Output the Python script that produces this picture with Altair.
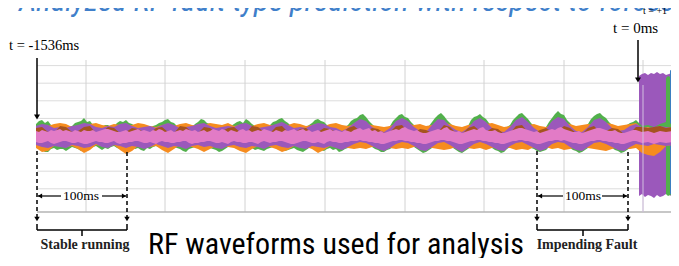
import altair as alt
import pandas as pd

# ---------------- data ----------------
# sample index along the record (stable part + a few samples into the fault)
stable_x = list(range(0, 601, 6)) + [606, 612, 618, 624, 630, 636]
mid_x = list(range(3, 600, 6))   # extra samples between the main ones (green / pink edges)

green_top = [12, 16, 15, 10, 9, 11, 10, 14, 18, 15,
             10, 9, 11, 10, 15, 16, 12, 9, 10, 8,
             11, 14, 17, 13, 9, 10, 9, 14, 16, 12,
             9, 10, 8, 12, 15, 17, 12, 9, 10, 11,
             15, 18, 13, 9, 10, 9, 13, 17, 14, 10,
             9, 8, 11, 17, 21, 19, 12, 8, 6, 10,
             18, 22, 18, 11, 7, 6, 14, 21, 20, 13,
             8, 6, 10, 19, 22, 17, 10, 7, 6, 11,
             19, 23, 17, 10, 6, 9, 18, 25, 21, 13,
             7, 6, 12, 20, 23, 18, 11, 7, 8, 13,
             16, 10, 11, 9, 12, 14, 12]
green_top_mid = [15, 13, 11, 8, 11, 9, 13, 15, 14, 11,
                 8, 11, 9, 13, 14, 13, 10, 11, 7, 10,
                 13, 16, 14, 10, 11, 8, 12, 17, 13, 10,
                 11, 8, 10, 14, 13, 15, 10, 11, 8, 14,
                 17, 15, 10, 11, 8, 11, 16, 15, 11, 8,
                 10, 9, 15, 18, 22, 15, 9, 7, 8, 15,
                 21, 19, 14, 9, 8, 10, 18, 23, 16, 10,
                 7, 8, 16, 20, 19, 13, 9, 5, 9, 16,
                 22, 20, 13, 8, 7, 14, 22, 22, 16, 9,
                 5, 9, 17, 22, 20, 14, 9, 6, 11, 14]
green_bot = [-11, -14, -16, -12, -13, -15, -11, -13, -15, -12,
             -10, -14, -13, -10, -13, -14, -11, -12, -15, -13,
             -10, -12, -14, -11, -13, -16, -12, -10, -13, -12,
             -14, -15, -11, -10, -13, -15, -12, -13, -15, -12,
             -10, -12, -14, -12, -15, -14, -11, -13, -15, -12,
             -13, -15, -12, -9, -7, -8, -11, -14, -16, -13,
             -9, -7, -8, -11, -15, -16, -12, -8, -7, -10,
             -14, -17, -13, -9, -7, -9, -12, -15, -16, -11,
             -8, -7, -10, -13, -16, -14, -9, -7, -8, -12,
             -15, -16, -12, -8, -7, -9, -12, -15, -16, -12,
             -9, -8, -9, -8, -10, -9, -8]
green_bot_mid = [-13, -16, -13, -14, -13, -13, -12, -15, -13, -11,
                 -12, -12, -11, -12, -15, -12, -13, -14, -12, -11,
                 -11, -15, -12, -12, -15, -13, -11, -12, -14, -13,
                 -16, -13, -10, -12, -14, -13, -14, -14, -13, -11,
                 -11, -15, -13, -14, -16, -12, -12, -14, -13, -14,
                 -16, -13, -10, -8, -9, -10, -13, -16, -14, -11,
                 -8, -9, -10, -13, -17, -14, -10, -8, -9, -12,
                 -16, -15, -11, -8, -8, -11, -14, -17, -13, -9,
                 -7, -9, -12, -15, -15, -11, -8, -8, -10, -14,
                 -17, -14, -10, -7, -8, -11, -14, -17, -14, -10]
orange_top = [9, 11, 10, 12, 13, 12, 9, 10, 11, 12,
              13, 11, 10, 12, 11, 10, 11, 13, 12, 10,
              9, 11, 12, 10, 12, 13, 11, 10, 11, 13,
              12, 11, 13, 10, 11, 12, 10, 12, 13, 11,
              10, 12, 11, 13, 12, 10, 11, 12, 10, 12,
              13, 11, 10, 12, 13, 12, 11, 10, 9, 10,
              12, 13, 12, 11, 12, 10, 11, 12, 13, 12,
              10, 9, 11, 12, 11, 12, 13, 11, 9, 10,
              12, 13, 11, 12, 10, 9, 11, 12, 13, 12,
              10, 11, 12, 11, 12, 13, 12, 10, 11, 12,
              13, 8, 9, 7, 8, 9, 8]
orange_bot = [-12, -16, -15, -10, -9, -11, -10, -13, -17, -14,
              -9, -10, -11, -9, -14, -18, -15, -10, -9, -11,
              -10, -14, -17, -13, -9, -10, -11, -13, -16, -13,
              -10, -9, -11, -12, -15, -17, -13, -10, -9, -11,
              -13, -16, -14, -10, -9, -11, -13, -17, -14, -10,
              -11, -11, -12, -13, -12, -13, -11, -10, -11, -12,
              -13, -12, -13, -11, -10, -11, -12, -13, -14, -13,
              -11, -10, -12, -13, -12, -14, -12, -10, -11, -12,
              -14, -13, -14, -11, -10, -11, -13, -12, -14, -13,
              -11, -10, -12, -13, -14, -15, -13, -11, -12, -13,
              -12, -17, -19, -20, -16, -10, -9]
purple_top = [10, 12, 11, 8, 9, 8, 10, 11, 13, 12,
              9, 8, 10, 9, 12, 13, 10, 8, 9, 10,
              8, 11, 13, 11, 8, 9, 10, 12, 13, 10,
              8, 9, 10, 9, 12, 13, 10, 8, 9, 10,
              12, 14, 11, 8, 9, 8, 11, 13, 12, 9,
              8, 5, 8, 13, 17, 15, 9, 6, 4, 8,
              15, 18, 15, 9, 5, 4, 11, 17, 16, 10,
              6, 4, 8, 15, 18, 14, 8, 5, 4, 9,
              16, 19, 14, 8, 4, 7, 15, 19, 17, 10,
              5, 4, 9, 16, 18, 14, 8, 5, 6, 10,
              12, 9, 8, 9, 10, 9, 8]
purple_bot = [-9, -11, -12, -10, -11, -12, -9, -10, -12, -11,
              -8, -11, -12, -9, -10, -12, -10, -11, -13, -11,
              -8, -10, -12, -10, -11, -13, -10, -9, -11, -10,
              -12, -13, -10, -9, -11, -12, -10, -11, -13, -10,
              -9, -11, -12, -10, -12, -13, -10, -11, -12, -10,
              -12, -14, -11, -8, -6, -7, -10, -13, -15, -12,
              -8, -6, -7, -10, -14, -15, -11, -7, -6, -9,
              -13, -16, -12, -8, -6, -8, -11, -14, -15, -10,
              -7, -6, -9, -12, -15, -13, -8, -6, -7, -11,
              -14, -15, -11, -7, -6, -8, -11, -14, -15, -11,
              -8, -9, -10, -8, -9, -10, -9]
brown_top = [8, 9, 4, 3, 10, 9, 4, 5, 9, 10,
             3, 4, 9, 8, 3, 4, 8, 7, 4, 3,
             8, 9, 4, 3, 10, 9, 4, 3, 9, 8,
             4, 5, 8, 9, 4, 3, 10, 9, 4, 3,
             9, 10, 4, 3, 7, 8, 3, 4, 8, 7,
             4, 3, 8, 10, 5, 4, 8, 7, 3, 4,
             10, 11, 4, 3, 7, 6, 3, 4, 11, 9,
             3, 2, 8, 10, 5, 4, 8, 7, 2, 3,
             10, 11, 4, 3, 6, 8, 4, 5, 10, 8,
             3, 2, 8, 10, 4, 5, 8, 7, 2, 3,
             9, 9, 8, 9, 10, 8, 9]
brown_bot = [2, 1, 3, 2, 1, 2, 3, 1, 2, 2,
             1, 3, 2, 1, 2, 3, 2, 1, 2, 1,
             3, 2, 1, 2, 2, 3, 1, 2, 2, 1,
             3, 2, 1, 2, 2, 1, 3, 2, 1, 2,
             3, 2, 1, 2, 1, 2, 3, 2, 1, 2,
             2, 0, 1, 3, 4, 3, 1, 0, -1, 1,
             3, 4, 3, 1, 0, -1, 1, 3, 4, 2,
             0, -1, 1, 3, 4, 2, 1, 0, -1, 1,
             3, 4, 2, 0, -1, 1, 3, 4, 3, 1,
             0, -1, 1, 3, 4, 2, 1, 0, -1, 1,
             2, 1, 0, 2, 1, 0, 1]
pink_top = [5, 6, 4, 5, 7, 6, 4, 5, 6, 5,
            4, 6, 7, 5, 4, 6, 5, 7, 6, 4,
            5, 6, 5, 4, 6, 7, 5, 4, 6, 5,
            6, 7, 4, 5, 6, 5, 4, 6, 7, 5,
            6, 4, 5, 7, 6, 5, 4, 6, 5, 7,
            6, 4, 5, 6, 8, 7, 5, 4, 3, 5,
            7, 8, 7, 5, 4, 3, 5, 7, 8, 6,
            4, 3, 5, 7, 8, 6, 5, 4, 3, 5,
            7, 8, 6, 4, 3, 5, 7, 8, 7, 5,
            4, 3, 5, 7, 8, 6, 5, 4, 3, 5,
            6, 4, 5, 3, 5, 4, 5]
pink_top_mid = [4, 5, 6, 6, 5, 5, 6, 4, 5, 6,
                5, 7, 6, 4, 5, 4, 6, 5, 5, 6,
                7, 4, 6, 5, 5, 6, 6, 5, 4, 7,
                5, 6, 6, 4, 7, 6, 5, 5, 6, 4,
                5, 6, 6, 5, 7, 6, 5, 4, 6, 5,
                5, 6, 4, 7, 6, 8, 6, 5, 4, 6,
                6, 9, 6, 6, 3, 4, 6, 6, 9, 5,
                5, 4, 6, 6, 9, 5, 6, 3, 4, 6,
                8, 7, 5, 5, 4, 6, 6, 9, 6, 4,
                5, 4, 6, 8, 7, 5, 6, 3, 4, 6]
pink_bot = [-6, -7, -5, -8, -6, -5, -7, -6, -8, -7,
            -5, -6, -7, -5, -8, -7, -6, -5, -7, -6,
            -8, -5, -6, -7, -6, -5, -8, -7, -6, -5,
            -7, -6, -8, -5, -6, -7, -6, -8, -5, -7,
            -6, -5, -7, -8, -6, -5, -7, -6, -8, -5,
            -6, -7, -6, -5, -4, -5, -6, -7, -8, -6,
            -5, -4, -5, -6, -7, -8, -6, -5, -4, -5,
            -7, -8, -6, -5, -4, -5, -6, -7, -8, -6,
            -5, -4, -5, -7, -8, -6, -5, -4, -4, -6,
            -7, -8, -6, -5, -4, -5, -6, -7, -8, -6,
            -5, -7, -6, -8, -6, -7, -6]
pink_bot_mid = [-7, -6, -7, -7, -5, -6, -7, -7, -8, -6,
                -6, -7, -6, -7, -7, -6, -5, -6, -7, -7,
                -6, -6, -7, -6, -5, -7, -7, -6, -5, -6,
                -7, -7, -6, -6, -7, -6, -7, -6, -6, -6,
                -5, -6, -8, -7, -5, -6, -7, -7, -6, -6,
                -7, -6, -5, -5, -5, -6, -7, -8, -7, -5,
                -4, -5, -6, -7, -8, -7, -5, -4, -5, -6,
                -8, -7, -5, -4, -5, -6, -7, -8, -7, -5,
                -4, -5, -6, -8, -7, -5, -4, -5, -5, -7,
                -8, -7, -5, -4, -5, -6, -7, -8, -7, -5]

# fault burst (after t = 0)
fault_x = [603, 606, 609, 612, 615, 618, 621, 624, 627, 630, 633, 636]
fault_purple_top = [60, 62, 63, 61, 63, 62, 64, 62, 63, 61, 62, 63]
fault_purple_bot = [-60, -58, -61, -59, -60, -62, -59, -61, -60, -58, -59, -60]
fault_green_x = [630, 632, 634, 637]
fault_green_top = [58, 60, 59, 61]
fault_green_bot = [-58, -60, -59, -60]
fault_blue_x = [634, 636, 640, 646]
fault_blue_top = [66, 65, 66, 67]
fault_blue_bot = [-58, -59, -58, -59]

grid_y = [70.4, 52.8, 35.2, 17.6, 0, -17.6, -35.2, -52.8]
grid_x = [50, 129, 209, 289, 369, 448, 528, 607]
axis_y = -76

for arr in [green_top, green_bot, orange_top, orange_bot, purple_top, purple_bot,
            brown_top, brown_bot, pink_top, pink_bot]:
    assert len(arr) == len(stable_x), len(arr)
for arr in [green_top_mid, green_bot_mid, pink_top_mid, pink_bot_mid]:
    assert len(arr) == len(mid_x), len(arr)

COL = {"green": "#52b04c", "orange": "#f68c1f", "purple": "#9b58bb",
       "brown": "#a5531f", "blue": "#3b7fc1", "pink": "#e27bc6"}

XS = alt.Scale(domain=[-28, 635], nice=False, zero=False)
YS = alt.Scale(domain=[-122, 128], nice=False, zero=False)


def X(f="x"):
    return alt.X(f"{f}:Q", scale=XS, axis=None)


def Y(f="y"):
    return alt.Y(f"{f}:Q", scale=YS, axis=None)


def band(xv, top, bot, color, xm=None, topm=None, botm=None):
    df = pd.DataFrame({"x": xv, "y": top, "y2": bot})
    if xm is not None:
        df = pd.concat([df, pd.DataFrame({"x": xm, "y": topm, "y2": botm})])
        df = df.sort_values("x").reset_index(drop=True)
    return alt.Chart(df).mark_area(color=color, opacity=1, strokeWidth=0).encode(
        x=X(), y=Y(), y2="y2:Q")


def hrules(rows, color="black", width=1.5, dash=None):
    df = pd.DataFrame(rows, columns=["x", "x2", "y"])
    kw = dict(color=color, strokeWidth=width)
    if dash:
        kw["strokeDash"] = dash
    return alt.Chart(df).mark_rule(**kw).encode(x=X(), x2="x2:Q", y=Y())


def vrules(rows, color="black", width=1.5, dash=None):
    df = pd.DataFrame(rows, columns=["x", "y", "y2"])
    kw = dict(color=color, strokeWidth=width)
    if dash:
        kw["strokeDash"] = dash
    return alt.Chart(df).mark_rule(**kw).encode(x=X(), y=Y(), y2="y2:Q")


def heads(rows, shape, size=36):
    df = pd.DataFrame(rows, columns=["x", "y"])
    return alt.Chart(df).mark_point(shape=shape, filled=True, size=size, color="black",
                                    opacity=1, strokeWidth=0).encode(x=X(), y=Y())


def texts(rows, **mk):
    df = pd.DataFrame(rows, columns=["t", "x", "y"])
    return alt.Chart(df).mark_text(**mk).encode(x=X(), y=Y(), text="t:N")


layers = []
# grid
layers.append(hrules([(1, 646, g) for g in grid_y], color="#dcdcdc", width=1))
layers.append(vrules([(g, 76, axis_y) for g in grid_x], color="#d2d2d2", width=1))
layers.append(hrules([(1, 646, axis_y)], color="#b5b5b5", width=1.5))

# fault burst
layers.append(band(fault_x, fault_purple_top, fault_purple_bot, COL["purple"]))
layers.append(band(fault_green_x, fault_green_top, fault_green_bot, COL["green"]))
layers.append(band(fault_blue_x, fault_blue_top, fault_blue_bot, COL["blue"]))

# waveforms
layers.append(band(stable_x, green_top, green_bot, COL["green"],
                   mid_x, green_top_mid, green_bot_mid))
layers.append(band(stable_x, orange_top, orange_bot, COL["orange"]))
layers.append(band(stable_x, purple_top, purple_bot, COL["purple"]))
layers.append(band(stable_x, brown_top, brown_bot, COL["brown"]))
layers.append(band(stable_x, pink_top, pink_bot, COL["pink"],
                   mid_x, pink_top_mid, pink_bot_mid))
layers.append(vrules([(607, 51, axis_y)], color="#d2bfe0", width=1))

# arrows for time markers
layers.append(vrules([(1, 78, 21), (602, 96, 58), (642, 124, 72)]))
layers.append(heads([(1, 19), (602, 56), (642, 70)], "triangle-down"))

# dashed window markers
layers.append(vrules([(1, -15, -82), (91, -16, -82), (501, -15, -82), (592, -16, -82)],
                     dash=[4, 3]))
layers.append(heads([(1, -83), (91, -83), (501, -83), (592, -83)], "triangle-down", 30))

# 100ms arrows
layers.append(hrules([(2, 25, -60), (66, 90, -60), (502, 527, -60), (566, 591, -60)], width=1.2))
layers.append(heads([(4, -60), (504, -60)], "triangle-left", 24))
layers.append(heads([(88, -60), (589, -60)], "triangle-right", 24))

# braces
layers.append(hrules([(1, 91, -94), (501, 592, -94)], width=1.5))
layers.append(vrules([(1, -88, -94), (91, -88, -94), (501, -88, -94), (592, -88, -94),
                      (46, -94, -100), (547, -94, -100)], width=1.5))

SERIF = "Liberation Serif"
NARROW = "Liberation Sans Narrow, Roboto Condensed, Roboto"
layers.append(texts([("t = -1536ms", -27, 86)],
                    font=SERIF, fontSize=14.5, align="left", baseline="alphabetic", color="black"))
layers.append(texts([("t = 0ms", 577, 103)],
                    font=SERIF, fontSize=15, align="left", baseline="alphabetic", color="black"))
layers.append(texts([("100ms", 45, -60), ("100ms", 547, -60)],
                    font=SERIF, fontSize=13.5, align="center", baseline="middle", color="black"))
layers.append(texts([("Stable running", 49, -113), ("Impending Fault", 551, -113)],
                    font=SERIF, fontSize=14, fontWeight="bold", align="center",
                    baseline="alphabetic", color="#222222"))
layers.append(texts([("RF waveforms used for analysis", 112, -118)],
                    font=NARROW, fontSize=30, align="left", baseline="alphabetic", color="black"))
layers.append(texts([("Analyzed RF fault type prediction with respect to forces", -17, 125.5)],
                    font=NARROW, fontSize=31, fontStyle="italic", align="left",
                    baseline="alphabetic", color="#3f7fca"))
layers.append(texts([("t = +1", 607, 122.5)],
                    font=SERIF, fontSize=10, align="left", baseline="alphabetic", color="black"))

chart = alt.layer(*layers).properties(
    width=663, height=250, padding=0,
    autosize=alt.AutoSizeParams(type="none"),
    background="white",
).configure_view(strokeWidth=0)

chart.save("out.html", embed_options={"renderer": "svg", "actions": False})
